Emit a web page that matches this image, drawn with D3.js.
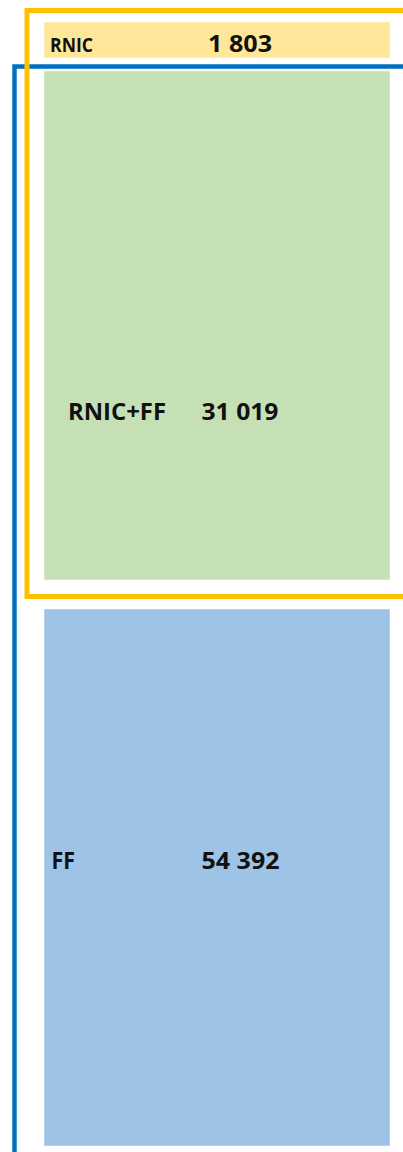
<!DOCTYPE html>
<html>
<head>
<meta charset="utf-8">
<script src="https://cdn.jsdelivr.net/npm/d3@7"></script>
<style>
  html, body { margin: 0; padding: 0; background: #fff; }
  svg { display: block; }
  text { font-family: "Open Sans", "Liberation Sans", sans-serif; font-weight: 700; fill: #111; }
</style>
</head>
<body>
<script>
// data
const categories = ['RNIC', 'RNIC+FF', 'FF']
const counts = [1803, 31019, 54392]
const fills = ['#ffe699', '#c5e0b4', '#9dc3e6']

// groups drawn as open frames around the boxes they cover
const groups = ['RNIC', 'FF']
const groupColors = ['#ffc000', '#0070c0']

// layout (not data)
const width = 403, height = 1152
const rowHeights = [36, 509, 537]
const gaps = [22, 13, 29]
const boxX = [44, 390]

const svg = d3.select('body').append('svg')
    .attr('width', width)
    .attr('height', height)

// cumulative row positions
let acc = 0
const rows = categories.map(function(c, i) {
  acc += gaps[i]
  const r = {key: c, value: counts[i], fill: fills[i], y0: acc, y1: acc + rowHeights[i]}
  acc += rowHeights[i]
  return r
})
const byKey = new Map(rows.map(r => [r.key, r]))

const x = d3.scaleLinear().domain([0, 1]).range(boxX)
const fmt = d3.formatLocale({decimal: ',', thousands: ' ', grouping: [3], currency: ['', '']}).format(',d')

// frames: blue (FF) first, yellow (RNIC) over it
const frames = [
  {name: groups[1], color: groupColors[1], left: 14.5, top: byKey.get('RNIC+FF').y0 - 4.5, bottom: height + 20, w: 4.5},
  {name: groups[0], color: groupColors[0], left: 27, top: byKey.get('RNIC').y0 - 11.5, bottom: byKey.get('RNIC+FF').y1 + 16.5, w: 5}
]
svg.selectAll('path.frame')
  .data(frames)
  .enter().append('path')
    .attr('class', 'frame')
    .attr('fill', 'none')
    .attr('stroke', d => d.color)
    .attr('stroke-width', d => d.w)
    .attr('d', d => 'M' + (width + 20) + ',' + d.top + 'H' + d.left + 'V' + d.bottom + 'H' + (width + 20))

// boxes
svg.selectAll('rect.box')
  .data(rows)
  .enter().append('rect')
    .attr('class', 'box')
    .attr('x', x(0))
    .attr('y', d => d.y0)
    .attr('width', x(1) - x(0))
    .attr('height', d => d.y1 - d.y0)
    .attr('fill', d => d.fill)
    .attr('stroke', '#ffffff')
    .attr('stroke-opacity', 0.5)
    .attr('stroke-width', 1)

// label styling per row
const labelStyle = {
  'RNIC':    {x: 50, size: 19, len: 43, base: 30, vx: 208, vlen: 64},
  'RNIC+FF': {x: 68, size: 24, len: 98, base: 349, vx: 201.5, vlen: 77},
  'FF':      {x: 51.5, size: 24, len: 23.5, base: 260, vx: 201.5, vlen: 78}
}

rows.forEach(function(d) {
  const s = labelStyle[d.key]
  svg.append('text')
      .attr('x', s.x)
      .attr('y', d.y0 + s.base)
      .attr('font-size', s.size)
      .attr('textLength', s.len)
      .attr('lengthAdjust', 'spacingAndGlyphs')
      .text(d.key)
  svg.append('text')
      .attr('x', s.vx)
      .attr('y', d.y0 + s.base)
      .attr('font-size', 24)
      .attr('textLength', s.vlen)
      .attr('lengthAdjust', 'spacingAndGlyphs')
      .text(fmt(d.value))
})
</script>
</body>
</html>
